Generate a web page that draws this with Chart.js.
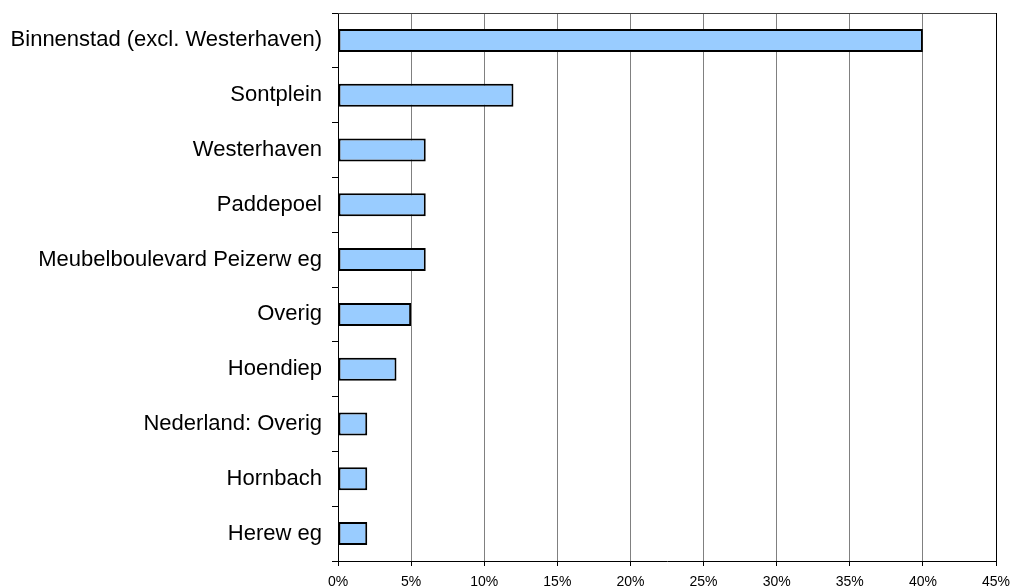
<!DOCTYPE html>
<html>
<head>
<meta charset="utf-8">
<script src="https://cdn.jsdelivr.net/npm/chart.js@4/dist/chart.umd.min.js"></script>
<style>
  html, body { margin: 0; padding: 0; background: #ffffff; }
  #wrap { width: 1014px; height: 588px; }
</style>
</head>
<body>
<div id="wrap"><canvas id="chart" width="1014" height="588"></canvas></div>
<script>
  const locations = [
    "Binnenstad (excl. Westerhaven)",
    "Sontplein",
    "Westerhaven",
    "Paddepoel",
    "Meubelboulevard Peizerw eg",
    "Overig",
    "Hoendiep",
    "Nederland: Overig",
    "Hornbach",
    "Herew eg"
  ];
  const shares = [40, 12, 6, 6, 6, 5, 4, 2, 2, 2];
  const axisMax = 45;
  const axisStep = 5;

  // top and right edges of the plot frame
  const framePlugin = {
    id: "frame",
    afterDatasetsDraw(chart) {
      const { ctx, chartArea: a } = chart;
      ctx.save();
      ctx.lineWidth = 1;
      ctx.strokeStyle = "#404040";
      ctx.beginPath();
      ctx.moveTo(a.left, Math.round(a.top) + 0.5);
      ctx.lineTo(a.right, Math.round(a.top) + 0.5);
      ctx.stroke();
      ctx.strokeStyle = "#000000";
      ctx.beginPath();
      ctx.moveTo(Math.round(a.right) + 0.5, a.top);
      ctx.lineTo(Math.round(a.right) + 0.5, a.bottom);
      ctx.stroke();
      ctx.restore();
    }
  };

  new Chart(document.getElementById("chart").getContext("2d"), {
    type: "bar",
    data: {
      labels: locations,
      datasets: [
        {
          label: "Aandeel",
          data: shares,
          backgroundColor: "#99ccff",
          borderColor: "#000000",
          borderWidth: 2,
          borderSkipped: false,
          categoryPercentage: 1,
          barPercentage: 0.42
        }
      ]
    },
    options: {
      indexAxis: "y",
      responsive: false,
      animation: false,
      layout: { padding: { top: 13, right: 18, bottom: 0, left: 0 } },
      plugins: {
        legend: { display: false },
        tooltip: { enabled: false }
      },
      scales: {
        x: {
          min: 0,
          max: axisMax,
          afterFit(scale) {
            scale.height = 27;
            scale.paddingLeft = 0;
            scale.paddingRight = 0;
          },
          border: { color: "#000000", width: 1 },
          grid: {
            color: "#808080",
            tickColor: "#000000",
            tickLength: 5
          },
          ticks: {
            stepSize: axisStep,
            padding: 8,
            color: "#000000",
            font: { family: "'Liberation Sans', Arial, sans-serif", size: 14 },
            callback: (v) => v + "%"
          }
        },
        y: {
          afterFit(scale) {
            scale.width = 338;
            scale.paddingTop = 0;
            scale.paddingBottom = 0;
          },
          border: { color: "#000000", width: 1 },
          grid: {
            offset: true,
            drawOnChartArea: false,
            color: "#000000",
            tickLength: 6
          },
          ticks: {
            padding: 10,
            color: "#000000",
            font: { family: "'Liberation Sans', Arial, sans-serif", size: 22 }
          }
        }
      }
    },
    plugins: [framePlugin]
  });
</script>
</body>
</html>
